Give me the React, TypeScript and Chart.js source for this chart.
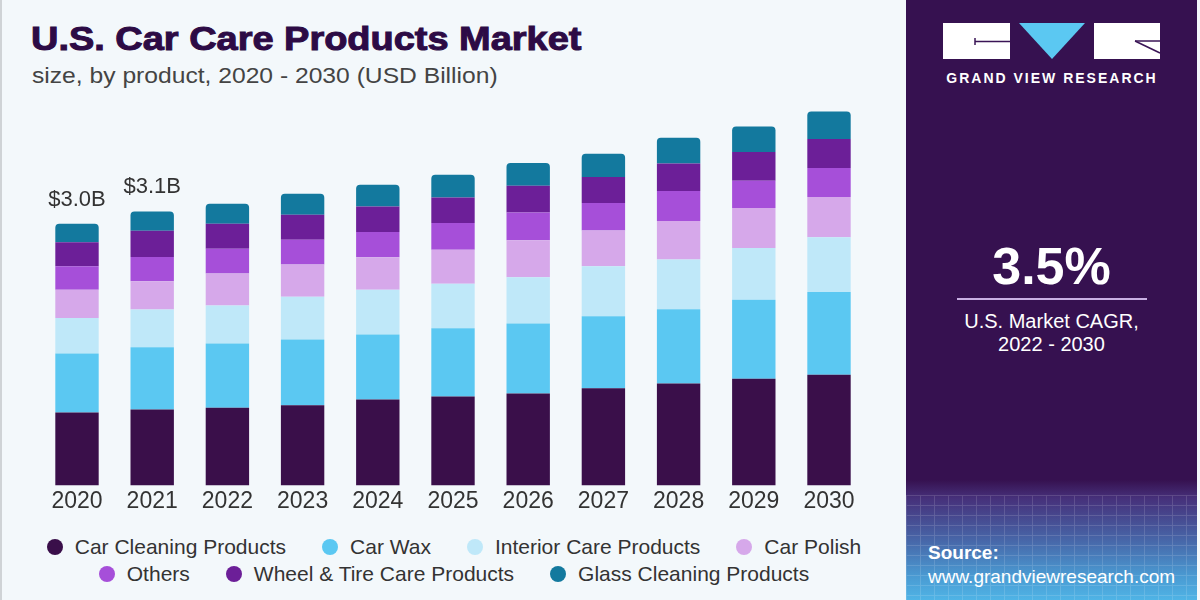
import React, { useEffect, useRef } from "react";
import { Chart, registerables } from "chart.js";

Chart.register(...registerables);

const years = ["2020", "2021", "2022", "2023", "2024", "2025", "2026", "2027", "2028", "2029", "2030"];
const carCleaning = [0.836, 0.871, 0.890, 0.920, 0.985, 1.019, 1.054, 1.115, 1.168, 1.222, 1.268];
const carWax = [0.676, 0.714, 0.737, 0.753, 0.745, 0.782, 0.802, 0.825, 0.851, 0.908, 0.951];
const interiorCare = [0.409, 0.432, 0.435, 0.489, 0.515, 0.512, 0.530, 0.573, 0.573, 0.592, 0.627];
const carPolish = [0.324, 0.324, 0.367, 0.370, 0.370, 0.389, 0.424, 0.409, 0.439, 0.458, 0.462];
const others = [0.267, 0.279, 0.286, 0.286, 0.290, 0.306, 0.321, 0.317, 0.344, 0.313, 0.332];
const wheelTire = [0.275, 0.301, 0.286, 0.286, 0.294, 0.294, 0.306, 0.298, 0.317, 0.329, 0.332];
const glassCleaning = [0.214, 0.221, 0.229, 0.241, 0.249, 0.260, 0.260, 0.267, 0.294, 0.294, 0.317];
const totalLabels = ["$3.0B", "$3.1B", "", "", "", "", "", "", "", "", ""];

const seriesNames = [
  "Car Cleaning Products",
  "Car Wax",
  "Interior Care Products",
  "Car Polish",
  "Others",
  "Wheel & Tire Care Products",
  "Glass Cleaning Products",
];
const seriesColors = ["#3a0f4a", "#5bc8f2", "#bfe8f9", "#d6a8ea", "#a64fd9", "#6c1f98", "#13799e"];
const seriesData = [carCleaning, carWax, interiorCare, carPolish, others, wheelTire, glassCleaning];

const FONT = "'Liberation Sans', Arial, sans-serif";

const totalLabelPlugin = {
  id: "totalLabels",
  afterDatasetsDraw(chart: any) {
    const ctx = chart.ctx;
    const lastMeta = chart.getDatasetMeta(chart.data.datasets.length - 1);
    ctx.save();
    ctx.font = `22px ${FONT}`;
    ctx.fillStyle = "#333333";
    ctx.textAlign = "center";
    ctx.textBaseline = "bottom";
    totalLabels.forEach((lbl, i) => {
      if (!lbl) return;
      const el = lastMeta.data[i];
      ctx.fillText(lbl, el.x, el.y - 13);
    });
    ctx.restore();
  },
};

function BarChart() {
  const ref = useRef<HTMLCanvasElement | null>(null);
  useEffect(() => {
    if (!ref.current) return;
    const last = seriesNames.length - 1;
    const chart = new Chart(ref.current, {
      type: "bar",
      data: {
        labels: years,
        datasets: seriesNames.map((name, i) => ({
          label: name,
          data: seriesData[i],
          backgroundColor: seriesColors[i],
          borderWidth: 0,
          borderSkipped: false,
          borderRadius: i === last ? { topLeft: 4, topRight: 4, bottomLeft: 0, bottomRight: 0 } : 0,
          barPercentage: 0.577,
          categoryPercentage: 1,
          stack: "s",
        })),
      },
      options: {
        responsive: false,
        animation: false,
        layout: { padding: { left: 39.4, right: 33.4, top: 93, bottom: 13 } },
        plugins: { legend: { display: false }, tooltip: { enabled: false } },
        scales: {
          x: {
            stacked: true,
            grid: { display: false, drawTicks: false },
            border: { display: false },
            ticks: { color: "#333333", font: { family: FONT, size: 23 }, padding: 2, maxRotation: 0 },
          },
          y: {
            stacked: true,
            display: false,
            min: 0,
            max: 4.5,
          },
        },
      },
      plugins: [totalLabelPlugin],
    });
    return () => chart.destroy();
  }, []);
  return (
    <canvas
      ref={ref}
      width={900}
      height={530}
      style={{ position: "absolute", left: 0, top: 0, width: 900, height: 530 }}
    />
  );
}

function Legend() {
  const rows = [
    [0, 1, 2, 3],
    [4, 5, 6],
  ];
  return (
    <div style={{ position: "absolute", left: 0, top: 533, width: 908, fontFamily: FONT }}>
      {rows.map((r, ri) => (
        <div
          key={ri}
          style={{ display: "flex", justifyContent: "center", alignItems: "center", height: 27, gap: 36 }}
        >
          {r.map((i) => (
            <div key={i} style={{ display: "flex", alignItems: "center", gap: 12 }}>
              <span
                style={{
                  display: "inline-block",
                  width: 16,
                  height: 16,
                  borderRadius: "50%",
                  background: seriesColors[i],
                }}
              />
              <span style={{ fontSize: 21, color: "#333333", whiteSpace: "nowrap" }}>{seriesNames[i]}</span>
            </div>
          ))}
        </div>
      ))}
    </div>
  );
}

function Logo() {
  return (
    <svg width={220} height={70} style={{ position: "absolute", left: 942, top: 20 }}>
      <rect x={1} y={3} width={67} height={36} fill="#ffffff" />
      <line x1={33} y1={21.5} x2={68} y2={21.5} stroke="#3a1456" strokeWidth={1.5} />
      <line x1={33} y1={18} x2={33} y2={25} stroke="#3a1456" strokeWidth={1.5} />
      <polygon points="77,3 143,3 110,39" fill="#5bc8f2" />
      <rect x={152} y={3} width={66} height={36} fill="#ffffff" />
      <line x1={193} y1={21} x2={218} y2={21} stroke="#3a1456" strokeWidth={1.5} />
      <line x1={193} y1={21} x2={218} y2={33} stroke="#3a1456" strokeWidth={1.5} />
    </svg>
  );
}

export default function App() {
  return (
    <div
      style={{
        position: "absolute",
        left: 0,
        top: 0,
        width: 1200,
        height: 600,
        background: "#f3f8fb",
        overflow: "hidden",
        fontFamily: FONT,
      }}
    >
      <div style={{ position: "absolute", left: 0, top: 0, width: 2, height: 600, background: "#cfd3d6" }} />
      <div
        style={{
          position: "absolute",
          left: 31,
          top: 19,
          fontSize: 33,
          fontWeight: 700,
          color: "#2d0b45",
          whiteSpace: "nowrap",
          WebkitTextStroke: "1px #2d0b45",
          lineHeight: "40px",
          transform: "scaleX(1.15)",
          transformOrigin: "left top",
        }}
      >
        U.S. Car Care Products Market
      </div>
      <div
        style={{
          position: "absolute",
          left: 32,
          top: 62,
          fontSize: 22,
          color: "#444444",
          whiteSpace: "nowrap",
          lineHeight: "28px",
          transform: "scaleX(1.12)",
          transformOrigin: "left top",
        }}
      >
        size, by product, 2020 - 2030 (USD Billion)
      </div>
      <BarChart />
      <Legend />
      <div
        style={{
          position: "absolute",
          left: 906,
          top: 0,
          width: 291,
          height: 600,
          background:
            "linear-gradient(to bottom, #361150 0%, #361150 80%, #46307a 83%, #4766a8 90%, #4a9ad2 96%, #4fb4e6 100%)",
        }}
      >
        <div
          style={{
            position: "absolute",
            left: 0,
            top: 495,
            width: 291,
            height: 105,
            opacity: 0.15,
            backgroundImage:
              "repeating-linear-gradient(to right, rgba(255,255,255,0.9) 0px, rgba(255,255,255,0.9) 1px, transparent 1px, transparent 14px), repeating-linear-gradient(to bottom, rgba(255,255,255,0.9) 0px, rgba(255,255,255,0.9) 1px, transparent 1px, transparent 10px)",
          }}
        />
      </div>
      <Logo />
      <div
        style={{
          position: "absolute",
          left: 942,
          top: 69,
          width: 220,
          textAlign: "center",
          fontSize: 14,
          fontWeight: 700,
          color: "#ffffff",
          letterSpacing: 2,
          whiteSpace: "nowrap",
          lineHeight: "18px",
        }}
      >
        GRAND VIEW RESEARCH
      </div>
      <div
        style={{
          position: "absolute",
          left: 906,
          top: 236,
          width: 291,
          textAlign: "center",
          fontSize: 52,
          fontWeight: 700,
          color: "#ffffff",
          lineHeight: "60px",
        }}
      >
        3.5%
      </div>
      <div style={{ position: "absolute", left: 957, top: 298, width: 190, height: 2, background: "#c9b0e3" }} />
      <div
        style={{
          position: "absolute",
          left: 906,
          top: 310,
          width: 291,
          textAlign: "center",
          fontSize: 20,
          color: "#ffffff",
          lineHeight: "23px",
        }}
      >
        U.S. Market CAGR,
        <br />
        2022 - 2030
      </div>
      <div
        style={{
          position: "absolute",
          left: 928,
          top: 541,
          fontSize: 19,
          fontWeight: 700,
          color: "#ffffff",
          lineHeight: "24px",
        }}
      >
        Source:
      </div>
      <div
        style={{
          position: "absolute",
          left: 928,
          top: 565,
          fontSize: 19,
          color: "#ffffff",
          lineHeight: "24px",
          whiteSpace: "nowrap",
        }}
      >
        www.grandviewresearch.com
      </div>
    </div>
  );
}
